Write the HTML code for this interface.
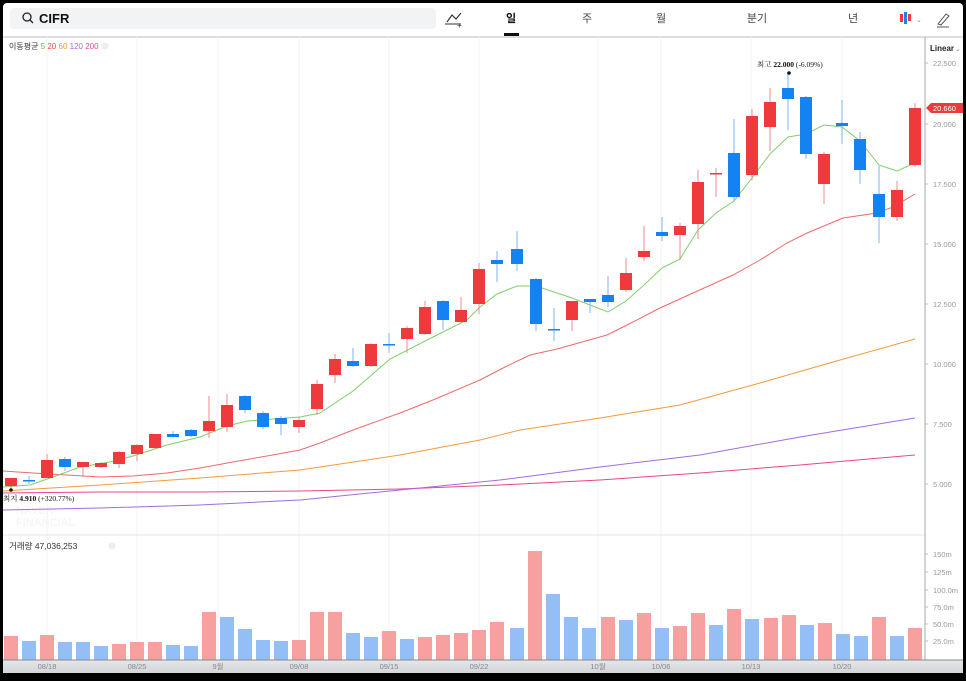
<!DOCTYPE html>
<html><head><meta charset="utf-8"><style>
html,body{margin:0;padding:0;background:#000;}
body{width:966px;height:676px;overflow:hidden;position:relative;font-family:"Liberation Sans","Noto Sans CJK KR",sans-serif;}
</style></head><body>
<svg width="966" height="676" viewBox="0 0 966 676" xmlns="http://www.w3.org/2000/svg" font-family="Liberation Sans, Noto Sans CJK KR, sans-serif">
<rect x="0" y="0" width="966" height="676" fill="#000"/>
<rect x="3" y="3" width="960" height="670" rx="4" fill="#fff"/>
<rect x="10" y="8" width="426" height="21" rx="4" fill="#f2f3f5"/>
<circle cx="27" cy="17" r="4" fill="none" stroke="#222" stroke-width="1.3"/>
<line x1="30" y1="20" x2="33" y2="23" stroke="#222" stroke-width="1.3"/>
<text x="39" y="23" font-size="13" font-weight="bold" fill="#111">CIFR</text>
<polyline points="447,22 452,15 456,19 461,13" fill="none" stroke="#333" stroke-width="1.2"/>
<line x1="445" y1="24" x2="461" y2="24" stroke="#333"/>
<text x="457" y="28" font-size="8" fill="#333">+</text>
<text x="511" y="22" font-size="11" font-weight="bold" fill="#111" text-anchor="middle">일</text>
<rect x="504" y="33" width="15" height="3" fill="#111"/>
<text x="587" y="22" font-size="11" fill="#444" text-anchor="middle">주</text>
<text x="661" y="22" font-size="11" fill="#444" text-anchor="middle">월</text>
<text x="757" y="22" font-size="11" fill="#444" text-anchor="middle">분기</text>
<text x="853" y="22" font-size="11" fill="#444" text-anchor="middle">년</text>
<rect x="900" y="14" width="3" height="8" fill="#ef3a3d"/><rect x="904" y="12" width="3" height="12" fill="#1482f0"/><rect x="908" y="14" width="3" height="7" fill="#ef3a3d"/>
<text x="916" y="22" font-size="7" fill="#888">⌄</text>
<path d="M938 24 L946 14 L949 16 L941 25 Z" fill="none" stroke="#555" stroke-width="1"/>
<line x1="937" y1="27" x2="949" y2="27" stroke="#555"/>
<line x1="3" y1="37" x2="963" y2="37" stroke="#bbb" stroke-width="1"/>
<g stroke="#f3f3f5" stroke-width="1">
<line x1="47" y1="37" x2="47" y2="660"/><line x1="137" y1="37" x2="137" y2="660"/><line x1="218" y1="37" x2="218" y2="660"/><line x1="299" y1="37" x2="299" y2="660"/><line x1="389" y1="37" x2="389" y2="660"/><line x1="479" y1="37" x2="479" y2="660"/><line x1="598" y1="37" x2="598" y2="660"/><line x1="661" y1="37" x2="661" y2="660"/><line x1="751" y1="37" x2="751" y2="660"/><line x1="842" y1="37" x2="842" y2="660"/>
</g>
<line x1="3" y1="535" x2="925" y2="535" stroke="#e4e4e6"/>
<line x1="925" y1="37" x2="925" y2="660" stroke="#aaa"/>
<text x="9" y="49" font-size="8" fill="#333">이동평균 <tspan fill="#5cbf4a">5</tspan> <tspan fill="#ef4a4a">20</tspan> <tspan fill="#f59a3c">60</tspan> <tspan fill="#a36be0">120</tspan> <tspan fill="#e9468e">200</tspan></text>
<circle cx="105" cy="46" r="3.5" fill="#eee"/>
<text x="930" y="51" font-size="8" font-weight="bold" fill="#222">Linear</text><text x="955" y="51" font-size="7" fill="#888">⌄</text>
<g font-size="7.5" fill="#999">
<text x="933" y="66">22.500</text><text x="933" y="127">20.000</text><text x="933" y="187">17.500</text><text x="933" y="247">15.000</text><text x="933" y="307">12.500</text><text x="933" y="367">10.000</text><text x="933" y="427">7.500</text><text x="933" y="487">5.000</text>
<text x="933" y="557">150m</text><text x="933" y="575">125m</text><text x="933" y="593">100.0m</text><text x="933" y="610">75.0m</text><text x="933" y="627">50.0m</text><text x="933" y="644">25.0m</text>
</g>
<g stroke="#bbb"><line x1="925" y1="63" x2="928" y2="63"/><line x1="925" y1="124" x2="928" y2="124"/><line x1="925" y1="184" x2="928" y2="184"/><line x1="925" y1="244" x2="928" y2="244"/><line x1="925" y1="304" x2="928" y2="304"/><line x1="925" y1="364" x2="928" y2="364"/><line x1="925" y1="424" x2="928" y2="424"/><line x1="925" y1="484" x2="928" y2="484"/>
<line x1="925" y1="554" x2="928" y2="554"/><line x1="925" y1="572" x2="928" y2="572"/><line x1="925" y1="590" x2="928" y2="590"/><line x1="925" y1="607" x2="928" y2="607"/><line x1="925" y1="624" x2="928" y2="624"/><line x1="925" y1="641" x2="928" y2="641"/></g>
<path d="M926 108 L931 103 L963 103 L963 113 L931 113 Z" fill="#ef3a3d"/>
<text x="933" y="111" font-size="7.5" fill="#fff">20.660</text>
<text x="16" y="514" font-size="11" font-weight="bold" fill="#f6f6f6">NAVER</text>
<text x="16" y="526" font-size="11" font-weight="bold" fill="#f6f6f6">FINANCIAL</text>
<polyline fill="none" stroke="#e9468e" stroke-width="1" points="3,493 100,492 200,492 300,491 400,489 500,485 600,480 700,473 800,465 915,455"/>
<polyline fill="none" stroke="#a36be0" stroke-width="1" points="3,510 100,508 200,505 300,500 400,490 500,480 600,467 700,455 800,437 915,418"/>
<polyline fill="none" stroke="#f59a3c" stroke-width="1" points="3,491 100,485 200,478 300,470 400,455 480,440 520,430 600,418 680,405 760,383 840,360 915,339"/>
<polyline fill="none" stroke="#f06a6a" stroke-width="1" points="3,471 33,473 67,475 100,477 133,476 167,473 200,468 233,462 267,456 300,450 320,443 353,430 400,413 433,400 480,380 505,367 530,355 557,349 607,335 627,325 660,308 693,293 733,275 760,260 787,243 807,233 843,218 877,213 893,207 915,194"/>
<polyline fill="none" stroke="#7fcf6a" stroke-width="1" points="3,487 30,485 53,477 80,467 110,462 133,456 167,445 200,437 227,426 247,421 273,419 300,417 320,413 353,391 390,359 433,337 467,320 480,307 497,294 517,286 536,286 554,292 572,298 590,305 608,312 626,301 644,285 662,268 680,259 698,230 716,213 734,201 752,178 770,154 788,137 806,134 824,125 842,127 860,141 879,165 897,171 915,163"/>
<g id="c"></g>
<circle cx="11" cy="490" r="1.8" fill="#111"/>
<text x="3" y="501" font-size="7.5" fill="#111" font-family="Liberation Serif, Noto Serif CJK SC, serif">최지 <tspan font-weight="bold">4.910</tspan> (+320.77%)</text>
<circle cx="789" cy="73" r="1.8" fill="#111"/>
<text x="757" y="67" font-size="7.5" fill="#111" font-family="Liberation Serif, Noto Serif CJK SC, serif">최고 <tspan font-weight="bold">22.000</tspan> (-6.09%)</text>
<text x="9" y="549" font-size="8.5" fill="#333">거래량 47,036,253</text>
<circle cx="112" cy="546" r="3.5" fill="#eee"/>
<g id="v"></g>
<defs><linearGradient id="bg" x1="0" y1="0" x2="0" y2="1"><stop offset="0" stop-color="#e6e7ea"/><stop offset="1" stop-color="#d2d4d8"/></linearGradient></defs>
<rect x="3" y="660" width="960" height="13" fill="url(#bg)"/>
<line x1="3" y1="660" x2="963" y2="660" stroke="#888"/>
<g font-size="7.5" fill="#888" text-anchor="middle">
<text x="47" y="669">08/18</text><text x="137" y="669">08/25</text><text x="218" y="669">9월</text><text x="299" y="669">09/08</text><text x="389" y="669">09/15</text><text x="479" y="669">09/22</text><text x="598" y="669">10월</text><text x="661" y="669">10/06</text><text x="751" y="669">10/13</text><text x="842" y="669">10/20</text>
</g>
</svg>
<script>
var C=[[11,478,486,478,490,'r'],[29,480,481,476,484,'b'],[47,460,478,454,478,'r'],[65,459,467,457,471,'b'],[83,462,467,462,477,'r'],[101,463,467,462,468,'r'],[119,452,464,451,468,'r'],[137,445,454,444,461,'r'],[155,434,448,434,449,'r'],[173,434,437,431,438,'b'],[191,430,436,429,437,'b'],[209,421,431,396,438,'r'],[227,405,427,394,432,'r'],[245,396,410,395,413,'b'],[263,413,427,411,429,'b'],[281,418,424,416,435,'b'],[299,420,427,417,433,'r'],[317,384,409,380,415,'r'],[335,359,375,354,383,'r'],[353,361,366,348,367,'b'],[371,344,366,343,367,'r'],[389,344,345,333,353,'b'],[407,328,339,326,353,'r'],[425,307,334,301,335,'r'],[443,301,320,300,330,'b'],[461,310,322,297,323,'r'],[479,269,304,263,314,'r'],[497,260,264,251,282,'b'],[517,249,264,231,271,'b'],[536,279,324,278,331,'b'],[554,329,330,308,341,'b'],[572,301,320,301,331,'r'],[590,299,302,299,313,'b'],[608,295,302,276,307,'b'],[626,273,290,258,292,'r'],[644,251,257,226,261,'r'],[662,232,236,217,241,'b'],[680,226,235,223,260,'r'],[698,182,224,170,239,'r'],[716,173,174,168,197,'r'],[734,153,197,119,201,'b'],[752,116,175,109,180,'r'],[770,102,127,88,151,'r'],[788,88,99,73,130,'b'],[806,97,154,96,159,'b'],[824,154,184,152,204,'r'],[842,123,126,100,144,'b'],[860,139,170,132,184,'b'],[879,194,217,166,243,'b'],[897,190,217,181,221,'r'],[915,108,165,103,167,'r']];
var V=[[11,636,'r'],[29,641,'b'],[47,635,'r'],[65,642,'b'],[83,642,'b'],[101,646,'b'],[119,644,'r'],[137,642,'r'],[155,642,'r'],[173,645,'b'],[191,646,'b'],[209,612,'r'],[227,617,'b'],[245,629,'b'],[263,640,'b'],[281,641,'b'],[299,640,'r'],[317,612,'r'],[335,612,'r'],[353,633,'b'],[371,637,'b'],[389,631,'r'],[407,639,'b'],[425,637,'r'],[443,635,'r'],[461,633,'r'],[479,630,'r'],[497,622,'r'],[517,628,'b'],[535,551,'r'],[553,594,'b'],[571,617,'b'],[589,628,'b'],[608,617,'r'],[626,620,'b'],[644,613,'r'],[662,628,'b'],[680,626,'r'],[698,613,'r'],[716,625,'b'],[734,609,'r'],[752,619,'b'],[771,618,'r'],[789,615,'r'],[807,625,'b'],[825,623,'r'],[843,634,'b'],[861,636,'b'],[879,617,'r'],[897,636,'b'],[915,628,'r']];
var ns='http://www.w3.org/2000/svg',g=document.getElementById('c'),gv=document.getElementById('v');
function el(p,t,a){var e=document.createElementNS(ns,t);for(var k in a)e.setAttribute(k,a[k]);p.appendChild(e);}
C.forEach(function(c){var col=c[5]=='r'?'#ef3a3d':'#1482f0';var wc=c[5]=='r'?'#f28a8c':'#7fb5f3';
el(g,'line',{x1:c[0],x2:c[0],y1:c[3],y2:c[4],stroke:wc,'stroke-width':1});
var h=Math.max(c[2]-c[1],1.5);el(g,'rect',{x:c[0]-6,y:c[1],width:12,height:h,fill:col});});
V.forEach(function(v){el(gv,'rect',{x:v[0]-7,y:v[1],width:14,height:660-v[1],fill:v[2]=='r'?'#f6a0a0':'#93bef6'});});
</script>
</body></html>
